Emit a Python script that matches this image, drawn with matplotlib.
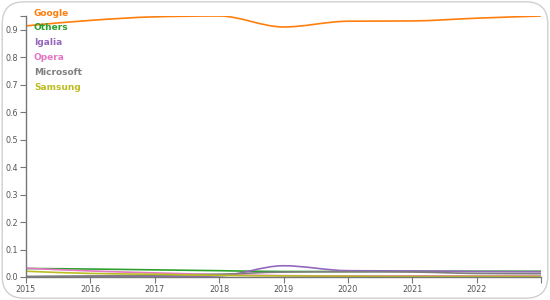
import numpy as np
import matplotlib
matplotlib.use("Agg")
import matplotlib.pyplot as plt
from matplotlib.path import Path
from matplotlib.patches import PathPatch, FancyBboxPatch

years = [2015, 2016, 2017, 2018, 2019, 2020, 2021, 2022, 2023]
names = ["Google", "Others", "Igalia", "Opera", "Microsoft", "Samsung"]
colors = ["#ff7f0e", "#2ca02c", "#9467bd", "#e377c2", "#7f7f7f", "#bcbd22"]

google = [0.915, 0.935, 0.948, 0.951, 0.911, 0.932, 0.933, 0.943, 0.951]
others = [0.031, 0.029, 0.026, 0.023, 0.020, 0.020, 0.021, 0.021, 0.021]
igalia = [0.001, 0.001, 0.001, 0.004, 0.041, 0.023, 0.022, 0.020, 0.019]
opera = [0.032, 0.022, 0.015, 0.009, 0.005, 0.004, 0.004, 0.004, 0.004]
microsoft = [0.002, 0.004, 0.006, 0.010, 0.018, 0.019, 0.018, 0.013, 0.012]
samsung = [0.021, 0.013, 0.010, 0.006, 0.004, 0.003, 0.002, 0.002, 0.002]
series = [google, others, igalia, opera, microsoft, samsung]


def monotone_path(x, y):
    # cubic bezier path like d3.curveMonotoneX
    x = np.asarray(x, float)
    y = np.asarray(y, float)
    n = len(x)
    h = np.diff(x)
    s = np.diff(y) / h
    t = np.zeros(n)
    for i in range(1, n - 1):
        if s[i - 1] * s[i] <= 0:
            t[i] = 0
        else:
            p = (s[i - 1] * h[i] + s[i] * h[i - 1]) / (h[i - 1] + h[i])
            t[i] = np.sign(s[i - 1]) * min(abs(s[i - 1]), abs(s[i]), 0.5 * abs(p)) * 2
    t[0] = (3 * s[0] - t[1]) / 2
    t[-1] = (3 * s[-1] - t[-2]) / 2
    verts = [(x[0], y[0])]
    codes = [Path.MOVETO]
    for i in range(n - 1):
        dx = h[i] / 3
        verts += [(x[i] + dx, y[i] + dx * t[i]),
                  (x[i + 1] - dx, y[i + 1] - dx * t[i + 1]),
                  (x[i + 1], y[i + 1])]
        codes += [Path.CURVE4] * 3
    return Path(verts, codes)


fig = plt.figure(figsize=(5.5, 3), dpi=100)
border = FancyBboxPatch((0.004, 0.006), 0.992, 0.988,
                        boxstyle="round,pad=0,rounding_size=0.04",
                        transform=fig.transFigure, facecolor="none",
                        edgecolor="#d0d0d0", linewidth=1.0,
                        mutation_aspect=550 / 300, zorder=-5)
fig.patches.append(border)
ax = fig.add_axes([26 / 550, 1 - 277 / 300, (541 - 26) / 550, (277 - 16) / 300])
ax.patch.set_alpha(0)

for vals, c in zip(series, colors):
    ax.add_patch(PathPatch(monotone_path(years, vals), facecolor="none",
                           edgecolor=c, linewidth=1.2))

ymax = max(google)
ax.set_xlim(2015, 2023)
ax.set_ylim(0, ymax)

ax.set_xticks(years)
ax.set_xticklabels([str(y) for y in years[:-1]] + [""])
yt = list(np.arange(0, 1.0, 0.1)) + [ymax]
ax.set_yticks(yt)
ax.set_yticklabels(["%.1f" % v for v in yt[:-1]] + [""])

for sp in ["top", "right"]:
    ax.spines[sp].set_visible(False)
for sp in ["left", "bottom"]:
    ax.spines[sp].set_color("#777777")
    ax.spines[sp].set_linewidth(1.0)
ax.tick_params(colors="#777777", labelcolor="#555555", labelsize=5.8,
               length=4, width=0.8, pad=2)

for i, (nm, c) in enumerate(zip(names, colors)):
    fig.text(34 / 550, 1 - (13 + i * 14.8) / 300, nm, color=c, fontsize=6.5,
             fontweight="bold", va="center", ha="left")

fig.savefig("out.png", dpi=100)
